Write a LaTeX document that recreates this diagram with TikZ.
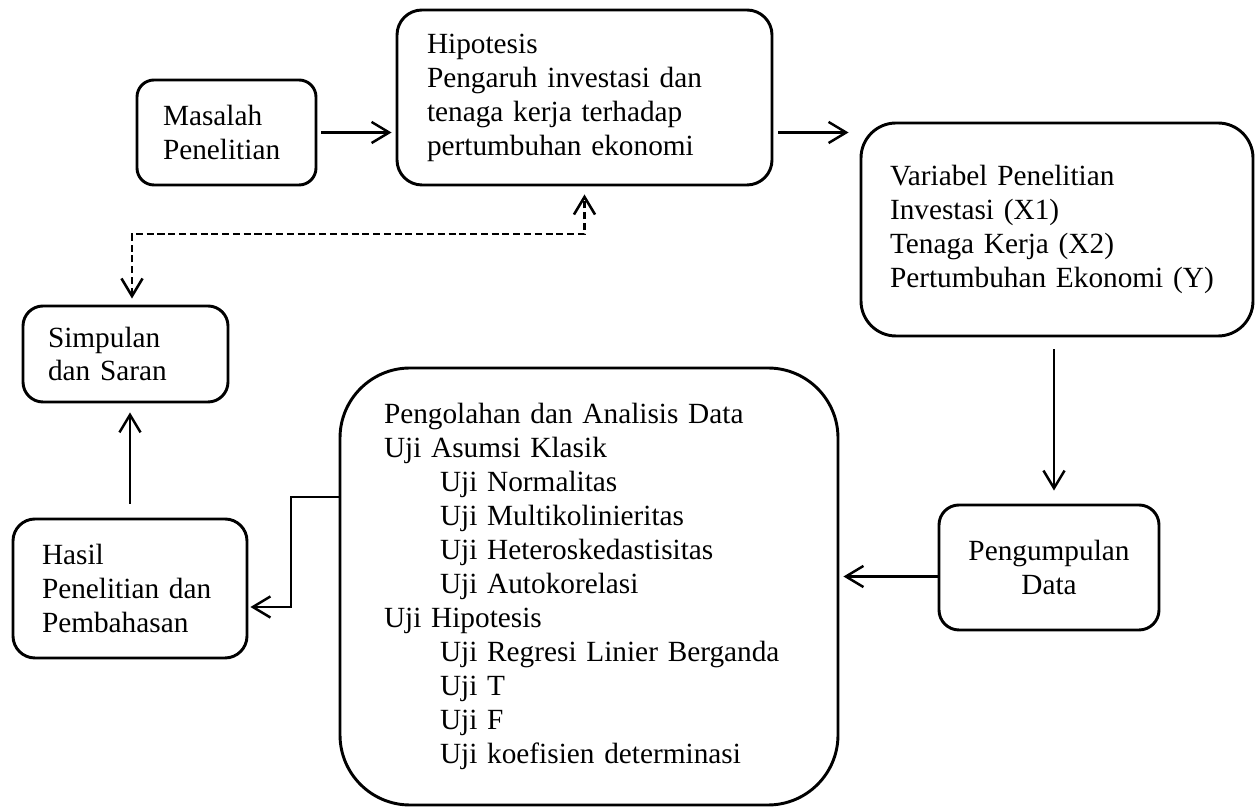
\documentclass[tikz,border=0pt]{standalone}
\usepackage{fontspec}
\setmainfont{Liberation Serif}
\usetikzlibrary{arrows.meta,calc}
\newdimen\px \px=0.015cm
\newcommand{\subuji}{\hspace*{56\px}}
\tikzset{
	kotak/.style={draw, line width=1.25pt, align=left, anchor=center,
		font=\fontsize{12.5pt}{14.5pt}\selectfont},
	panah/.style={line width=1.05pt, -{Straight Barb[length=7.5pt,width=9pt]}},
	balik/.style={line width=1.1pt, dash pattern=on 3pt off 1.6pt,
		{Straight Barb[length=7.5pt,width=9pt]}-{Straight Barb[length=7.5pt,width=9pt]}}
}

\begin{document}
\begin{tikzpicture}[x=0.015cm, y=-0.015cm]
\useasboundingbox (0,0) rectangle (1255,810);
%Top row
	\node[kotak, minimum width=179\px, minimum height=105\px, text width=127\px,
		inner xsep=26\px, rounded corners=17\px] (masalah) at (226.5,132.5)
		{Masalah\\Penelitian};
	\node[kotak, minimum width=375\px, minimum height=175\px, text width=315\px,
		inner xsep=30\px, rounded corners=25\px] (hipotesis) at (584.5,97.5)
		{Hipotesis\\Pengaruh investasi dan\\tenaga kerja terhadap\\pertumbuhan ekonomi};
	\node[kotak, minimum width=392\px, minimum height=213\px, text width=334\px,
		inner xsep=29\px, rounded corners=35\px] (variabel) at (1057,229.5)
		{Variabel Penelitian\\Investasi (X1)\\Tenaga Kerja (X2)\\Pertumbuhan Ekonomi (Y)};
%Bottom row
	\node[kotak, align=center, minimum width=220\px, minimum height=125\px, text width=180\px,
		inner xsep=20\px, rounded corners=20\px] (pengumpulan) at (1049,567.5)
		{Pengumpulan\\Data};
	\node[kotak, minimum width=498\px, minimum height=437\px, text width=410\px,
		inner xsep=44\px, rounded corners=70\px] (pengolahan) at (589,586.5)
		{Pengolahan dan Analisis Data\\Uji Asumsi Klasik\\
		\subuji Uji Normalitas\\\subuji Uji Multikolinieritas\\
		\subuji Uji Heteroskedastisitas\\\subuji Uji Autokorelasi\\
		Uji Hipotesis\\\subuji Uji Regresi Linier Berganda\\
		\subuji Uji T\\\subuji Uji F\\\subuji Uji koefisien determinasi};
	\node[kotak, minimum width=234\px, minimum height=139\px, text width=176\px,
		inner xsep=29\px, rounded corners=22\px] (hasil) at (130,588.5)
		{Hasil\\Penelitian dan\\Pembahasan};
	\node[kotak, minimum width=205\px, minimum height=96\px, text width=155\px,
		inner xsep=25\px, rounded corners=20\px] (simpulan) at (125.5,354)
		{Simpulan\\dan Saran};
%Arrows
	\draw[panah, shorten <=4\px, shorten >=4\px] (masalah.east) -- (masalah.east -| hipotesis.west);
	\draw[panah, shorten <=5\px, shorten >=11\px] (hipotesis.east |- masalah.east) -- (variabel.west |- masalah.east);
	\coordinate (atas) at ($(pengumpulan.north)+(5,0)$);
	\draw[panah, shorten <=12\px, shorten >=13\px] (variabel.south -| atas) -- (atas);
	\coordinate (kiri) at ($(pengumpulan.west)+(0,9)$);
	\draw[panah, shorten >=4\px] (kiri) -- (kiri -| pengolahan.east);
	\coordinate (k1) at (291,497);
	\coordinate (k2) at (291,607);
	\draw[panah, shorten >=2\px] (k1 -| pengolahan.west) -- (k1) -- (k2) -- (k2 -| hasil.east);
	\draw[panah, shorten <=14\px, shorten >=9\px] (hasil.north) -- (hasil.north |- simpulan.south);
%Feedback
	\coordinate (k3) at (132,234);
	\draw[balik, shorten <=6\px, shorten >=8\px] (k3 |- simpulan.north) -- (k3) -| (hipotesis.south);
\end{tikzpicture}
\end{document}
